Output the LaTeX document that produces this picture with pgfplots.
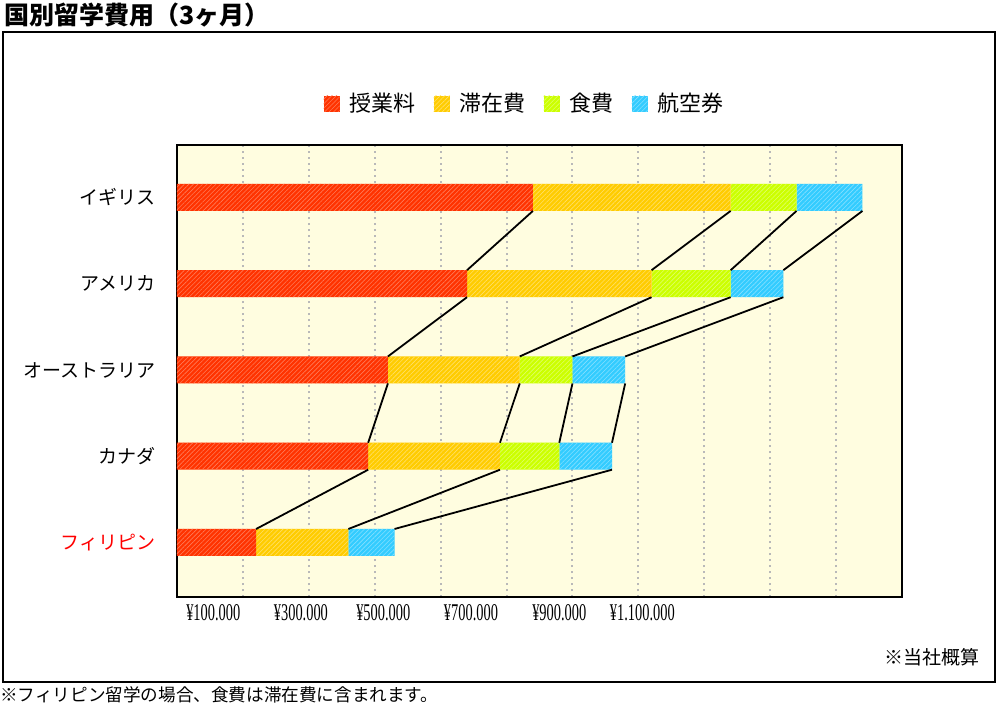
\documentclass[border=0pt]{standalone}
\usepackage{fontspec}
\setmainfont{Noto Sans CJK JP}
\newfontfamily\numfont[FakeStretch=0.6]{Liberation Serif}
\usepackage{pgfplots}
\pgfplotsset{compat=1.18}
\usetikzlibrary{patterns.meta}

\definecolor{cTuition}{HTML}{FF3300}
\definecolor{cStay}{HTML}{FFCC00}
\definecolor{cFood}{HTML}{CCFF00}
\definecolor{cFlight}{HTML}{33CCFF}
\definecolor{plotbg}{HTML}{FFFDE0}

\tikzset{
  hatch/.style={postaction={pattern={Lines[angle=45,distance=1.6pt,line width=0.3pt]},pattern color=#1}}
}

\begin{document}
\begin{tikzpicture}
\useasboundingbox (0,0) rectangle (500pt,354pt);
\fill[white] (0,0) rectangle (500pt,354pt);

% outer frame, title, notes
\draw[line width=1pt] (1.25pt,13pt) rectangle (497.5pt,338pt);
\node[anchor=west,inner sep=0pt,font=\fontsize{12.5pt}{14pt}\selectfont\bfseries] at (2pt,346.5pt) {国別留学費用（3ヶ月）};
\node[anchor=east,inner sep=0pt,font=\fontsize{9.5pt}{11pt}\selectfont] at (490pt,25.5pt) {※当社概算};
\node[anchor=west,inner sep=0pt,font=\fontsize{8.8pt}{10pt}\selectfont] at (0pt,6.5pt) {※フィリピン留学の場合、食費は滞在費に含まれます。};

\begin{axis}[
    at={(88.5pt,55.5pt)}, anchor=south west,
    width=362.5pt, height=226pt, scale only axis,
    xbar stacked,
    bar width=0.313,
    xmin=0, xmax=1100000,
    ymin=-0.632, ymax=4.608,
    axis background/.style={fill=plotbg},
    axis line style={line width=1pt},
    xtick={100000,200000,...,1000000},
    xticklabels={},
    xmajorgrids,
    major grid style={gray!55, line width=1pt, dash pattern=on 1pt off 2pt},
    extra x ticks={55000,188000,313000,446000,580000,706000},
    extra x tick labels={¥100.000,¥300.000,¥500.000,¥700.000,¥900.000,¥1.100.000},
    extra x tick style={grid=none},
    xticklabel style={font=\numfont\fontsize{12pt}{12pt}\selectfont, yshift=0pt},
    ytick={0,1,2,3,4},
    yticklabels={\textcolor{red}{フィリピン},カナダ,オーストラリア,アメリカ,イギリス},
    yticklabel style={font=\fontsize{9.5pt}{11pt}\selectfont, inner xsep=0pt, xshift=-10.5pt},
    major tick length=0pt,
    scaled x ticks=false,
    legend columns=4,
    legend style={at={(0.481,1.091)}, anchor=center, draw=none, fill=none,
        font=\fontsize{11pt}{13pt}\selectfont,
        /tikz/every odd column/.append style={column sep=3pt},
        /tikz/every even column/.append style={column sep=7pt}},
    legend image code/.code={\fill[#1] (0pt,-4pt) rectangle (8pt,4pt);},
]
\addplot[draw=none, fill=cTuition, hatch=cTuition!65!white] coordinates {
    (540000,4) (440000,3) (320000,2) (290000,1) (120000,0)};
\addplot[draw=none, fill=cStay, hatch=cStay!60!white] coordinates {
    (300000,4) (280000,3) (200000,2) (200000,1) (140000,0)};
\addplot[draw=none, fill=cFood, hatch=cFood!60!white] coordinates {
    (100000,4) (120000,3) (80000,2) (90000,1) (0,0)};
\addplot[draw=none, fill=cFlight, hatch=cFlight!60!white] coordinates {
    (100000,4) (80000,3) (80000,2) (80000,1) (70000,0)};
\legend{授業料,滞在費,食費,航空券}
\end{axis}

% connector lines between the bars
\begin{axis}[
    at={(88.5pt,55.5pt)}, anchor=south west,
    width=362.5pt, height=226pt, scale only axis,
    xmin=0, xmax=1100000,
    ymin=-0.632, ymax=4.608,
    hide axis,
    unbounded coords=jump,
]
\addplot[black, line width=0.9pt, mark=none] coordinates {
    (540000,3.8435) (440000,3.1565) (nan,nan)
    (840000,3.8435) (720000,3.1565) (nan,nan)
    (940000,3.8435) (840000,3.1565) (nan,nan)
    (1040000,3.8435) (920000,3.1565) (nan,nan)
    (440000,2.8435) (320000,2.1565) (nan,nan)
    (720000,2.8435) (520000,2.1565) (nan,nan)
    (840000,2.8435) (600000,2.1565) (nan,nan)
    (920000,2.8435) (680000,2.1565) (nan,nan)
    (320000,1.8435) (290000,1.1565) (nan,nan)
    (520000,1.8435) (490000,1.1565) (nan,nan)
    (600000,1.8435) (580000,1.1565) (nan,nan)
    (680000,1.8435) (660000,1.1565) (nan,nan)
    (290000,0.8435) (120000,0.1565) (nan,nan)
    (490000,0.8435) (260000,0.1565) (nan,nan)
    (660000,0.8435) (330000,0.1565)
};
\end{axis}
\end{tikzpicture}
\end{document}
